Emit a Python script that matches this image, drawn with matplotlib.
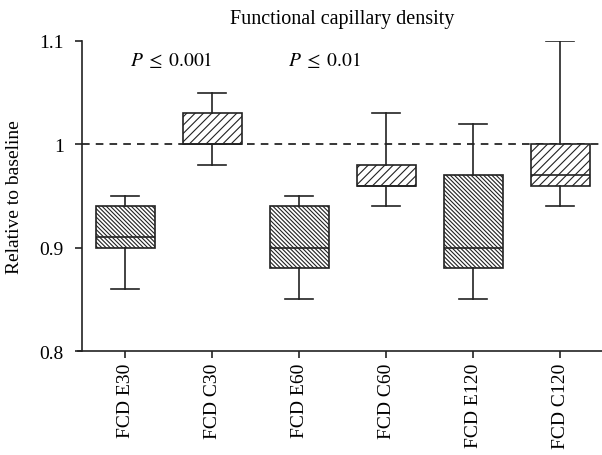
import matplotlib.pyplot as plt

plt.rcParams['font.family'] = ['Liberation Serif', 'DejaVu Serif']
plt.rcParams['mathtext.fontset'] = 'stix'
plt.rcParams['hatch.linewidth'] = 0.8
plt.rcParams['hatch.color'] = '#222222'

groups = ['FCD E30', 'FCD C30', 'FCD E60', 'FCD C60', 'FCD E120', 'FCD C120']
whisker_low = [0.86, 0.98, 0.85, 0.94, 0.85, 0.94]
q1 = [0.90, 1.00, 0.88, 0.96, 0.88, 0.96]
median = [0.91, 1.00, 0.90, 0.96, 0.90, 0.97]
q3 = [0.94, 1.03, 0.94, 0.98, 0.97, 1.00]
whisker_high = [0.95, 1.05, 0.95, 1.03, 1.02, 1.10]
hatches = ['\\' * 8, '////', '\\' * 8, '////', '\\' * 8, '////']

stats = []
for i in range(len(groups)):
    stats.append({'label': groups[i], 'whislo': whisker_low[i], 'q1': q1[i],
                  'med': median[i], 'q3': q3[i], 'whishi': whisker_high[i]})

fig = plt.figure(figsize=(6.02, 4.56), dpi=100)
ax = fig.add_axes([0.136, 0.228, 0.864, 0.68])

lw = 1.2
bp = ax.bxp(stats, positions=range(1, 7), widths=0.68, showfliers=False,
            patch_artist=True,
            boxprops=dict(facecolor='white', edgecolor='#222222', linewidth=lw),
            medianprops=dict(color='#222222', linewidth=lw),
            whiskerprops=dict(color='#222222', linewidth=lw),
            capprops=dict(color='#222222', linewidth=lw),
            capwidths=0.32)
for box, h in zip(bp['boxes'], hatches):
    box.set_hatch(h)

# baseline reference
ax.axhline(1.0, color='black', linestyle=(0, (5, 4)), linewidth=1.1, zorder=0)

ax.set_xlim(0.5, 6.48)
ax.set_ylim(0.8, 1.1)
ax.set_yticks([0.8, 0.9, 1.0, 1.1])
ax.set_yticklabels(['0.8', '0.9', '1', '1.1'])
ax.set_xticks(range(1, 7))
ax.set_xticklabels(groups, rotation=90)
ax.tick_params(labelsize=14, width=lw, length=5, color='#222222')
ax.tick_params(axis='y', pad=8)
for side in ['top', 'right']:
    ax.spines[side].set_visible(False)
for side in ['left', 'bottom']:
    ax.spines[side].set_linewidth(lw)
    ax.spines[side].set_color('#222222')
ax.spines['bottom'].set_bounds(0.45, 6.48)

ax.set_ylabel('Relative to baseline', fontsize=14, labelpad=12)
ax.set_title('Functional capillary density', fontsize=14.5, pad=13, x=0.5)

ax.text(1.53, 1.0825, r'$P\;\leq\;\mathrm{0.001}$', fontsize=14, ha='center', va='center')
ax.text(3.29, 1.0825, r'$P\;\leq\;\mathrm{0.01}$', fontsize=14, ha='center', va='center')

fig.savefig('out.png', dpi=100)
